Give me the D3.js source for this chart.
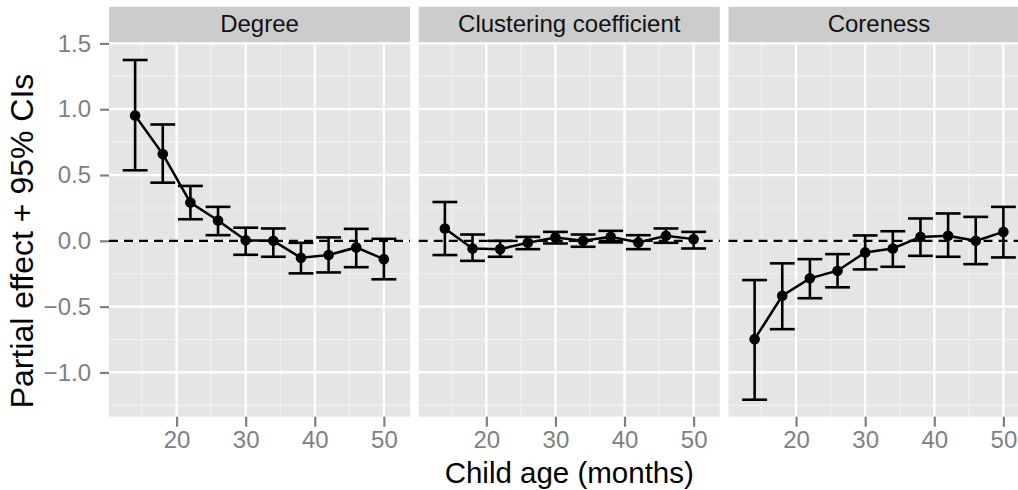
<!DOCTYPE html>
<html>
<head>
<meta charset="utf-8">
<script src="https://cdn.jsdelivr.net/npm/d3@7"></script>
<style>
  body { margin: 0; background: #fff; }
  svg text { font-family: "Liberation Sans", Arial, Helvetica, sans-serif; }
</style>
</head>
<body>
<div id="chart"></div>
<script>
// child age (months) at each estimate
var ages = [14, 18, 22, 26, 30, 34, 38, 42, 46, 50];
var panelNames = ["Degree", "Clustering coefficient", "Coreness"];

var degreeEst = [0.952, 0.659, 0.291, 0.155, 0.005, 0.0, -0.129, -0.108, -0.05, -0.139];
var degreeLo  = [0.536, 0.442, 0.164, 0.043, -0.106, -0.121, -0.247, -0.24, -0.20, -0.292];
var degreeHi  = [1.374, 0.884, 0.417, 0.258, 0.10, 0.094, -0.015, 0.026, 0.091, 0.015];

var clusterEst = [0.094, -0.058, -0.063, -0.015, 0.026, 0.0, 0.03, -0.012, 0.038, 0.013];
var clusterLo  = [-0.108, -0.152, -0.121, -0.063, -0.02, -0.045, -0.012, -0.063, -0.015, -0.058];
var clusterHi  = [0.295, 0.048, 0.0, 0.03, 0.068, 0.048, 0.076, 0.043, 0.094, 0.068];

var coreEst = [-0.747, -0.417, -0.285, -0.227, -0.088, -0.058, 0.030, 0.038, 0.0, 0.068];
var coreLo  = [-1.207, -0.671, -0.436, -0.353, -0.217, -0.197, -0.114, -0.121, -0.177, -0.126];
var coreHi  = [-0.298, -0.171, -0.139, -0.101, 0.041, 0.073, 0.17, 0.208, 0.182, 0.258];

var xTicks = [20, 30, 40, 50];
var xMinor = [15, 25, 35, 45];
var yTicks = [-1.0, -0.5, 0.0, 0.5, 1.0, 1.5];
var yMinor = [-1.25, -0.75, -0.25, 0.25, 0.75, 1.25];

var series = [
  {est: degreeEst, lo: degreeLo, hi: degreeHi},
  {est: clusterEst, lo: clusterLo, hi: clusterHi},
  {est: coreEst, lo: coreLo, hi: coreHi}
];

var W = 1018, H = 490;
var panelTop = 43, panelH = 373.7, panelW = 301, stripH = 36;
var panelLefts = [109, 418.75, 728.5];
var capHalf = 1.8;   // errorbar width 3.6 months

var svg = d3.select("#chart").append("svg")
    .attr("width", W)
    .attr("height", H);

// shared scales, ggplot style 5% expansion
var xlo = d3.min(ages) - capHalf, xhi = d3.max(ages) + capHalf;
var xpad = (xhi - xlo) * 0.05;
var x = d3.scaleLinear()
    .domain([xlo - xpad, xhi + xpad])
    .range([0, panelW]);

var ylo = d3.min(series, function(s) { return d3.min(s.lo); }),
    yhi = d3.max(series, function(s) { return d3.max(s.hi); });
var ypad = (yhi - ylo) * 0.05;
var y = d3.scaleLinear()
    .domain([ylo - ypad, yhi + ypad])
    .range([panelH, 0]);

var line = d3.line()
    .x(function(d) { return x(d.age); })
    .y(function(d) { return y(d.est); });

panelNames.forEach(function(name, i) {
  var s = series[i];
  var rows = ages.map(function(a, j) {
    return {age: a, est: s.est[j], lo: s.lo[j], hi: s.hi[j]};
  });

  var g = svg.append("g")
      .attr("transform", "translate(" + panelLefts[i] + "," + panelTop + ")");

  // strip
  g.append("rect")
      .attr("x", 0).attr("y", -stripH - 0.3)
      .attr("width", panelW).attr("height", stripH)
      .attr("fill", "#cccccc");
  g.append("text")
      .attr("x", panelW / 2).attr("y", -11.3)
      .attr("text-anchor", "middle")
      .style("font-size", "24px")
      .attr("fill", "#111")
      .text(name);

  // panel background + grid
  g.append("rect")
      .attr("width", panelW).attr("height", panelH)
      .attr("fill", "#e5e5e5");

  g.selectAll(".ymin").data(yMinor).enter().append("line")
      .attr("x1", 0).attr("x2", panelW)
      .attr("y1", y).attr("y2", y)
      .attr("stroke", "#f2f2f2").attr("stroke-width", 1.1);
  g.selectAll(".xmin").data(xMinor).enter().append("line")
      .attr("y1", 0).attr("y2", panelH)
      .attr("x1", x).attr("x2", x)
      .attr("stroke", "#f2f2f2").attr("stroke-width", 1.1);
  g.selectAll(".ymaj").data(yTicks).enter().append("line")
      .attr("x1", 0).attr("x2", panelW)
      .attr("y1", y).attr("y2", y)
      .attr("stroke", "#ffffff").attr("stroke-width", 2.2);
  g.selectAll(".xmaj").data(xTicks).enter().append("line")
      .attr("y1", 0).attr("y2", panelH)
      .attr("x1", x).attr("x2", x)
      .attr("stroke", "#ffffff").attr("stroke-width", 2.2);

  // zero reference
  g.append("line")
      .attr("x1", 0).attr("x2", panelW)
      .attr("y1", y(0)).attr("y2", y(0))
      .attr("stroke", "#000").attr("stroke-width", 2.3)
      .attr("stroke-dasharray", "9,6");

  // error bars
  var eb = g.selectAll(".eb").data(rows).enter().append("g")
      .attr("stroke", "#000").attr("stroke-width", 2.6).attr("fill", "none");
  eb.append("line")
      .attr("x1", function(d) { return x(d.age); })
      .attr("x2", function(d) { return x(d.age); })
      .attr("y1", function(d) { return y(d.lo); })
      .attr("y2", function(d) { return y(d.hi); });
  eb.append("line")
      .attr("x1", function(d) { return x(d.age - capHalf); })
      .attr("x2", function(d) { return x(d.age + capHalf); })
      .attr("y1", function(d) { return y(d.lo); })
      .attr("y2", function(d) { return y(d.lo); });
  eb.append("line")
      .attr("x1", function(d) { return x(d.age - capHalf); })
      .attr("x2", function(d) { return x(d.age + capHalf); })
      .attr("y1", function(d) { return y(d.hi); })
      .attr("y2", function(d) { return y(d.hi); });

  g.append("path")
      .datum(rows)
      .attr("fill", "none")
      .attr("stroke", "#000")
      .attr("stroke-width", 2.5)
      .attr("d", line);

  g.selectAll(".pt").data(rows).enter().append("circle")
      .attr("cx", function(d) { return x(d.age); })
      .attr("cy", function(d) { return y(d.est); })
      .attr("r", 5.3)
      .attr("fill", "#000");

  // x axis
  var xa = g.append("g")
      .attr("transform", "translate(0," + panelH + ")")
      .call(d3.axisBottom(x).tickValues(xTicks).tickSize(10).tickPadding(4));
  xa.select(".domain").remove();
  xa.selectAll("line").attr("stroke", "#7f7f7f").attr("stroke-width", 2.2);
  xa.selectAll("text")
      .attr("fill", "#7f7f7f")
      .style("font-size", "24px")
      .style("font-family", "'Liberation Sans', Arial, Helvetica, sans-serif");

  if (i === 0) {
    var ya = g.append("g")
        .call(d3.axisLeft(y).tickValues(yTicks).tickSize(9).tickPadding(9)
          .tickFormat(d3.format(".1f")));
    ya.select(".domain").remove();
    ya.selectAll("line").attr("stroke", "#7f7f7f").attr("stroke-width", 2.2);
    ya.selectAll("text")
        .attr("fill", "#7f7f7f")
        .style("font-size", "24px")
        .style("font-family", "'Liberation Sans', Arial, Helvetica, sans-serif");
  }
});

// axis titles
svg.append("text")
    .attr("x", panelLefts[1] + panelW / 2)
    .attr("y", 483)
    .attr("text-anchor", "middle")
    .style("font-size", "29.5px")
    .text("Child age (months)");

svg.append("text")
    .attr("transform", "translate(33," + 241 + ") rotate(-90)")
    .attr("text-anchor", "middle")
    .style("font-size", "32px")
    .text("Partial effect + 95% CIs");
</script>
</body>
</html>
